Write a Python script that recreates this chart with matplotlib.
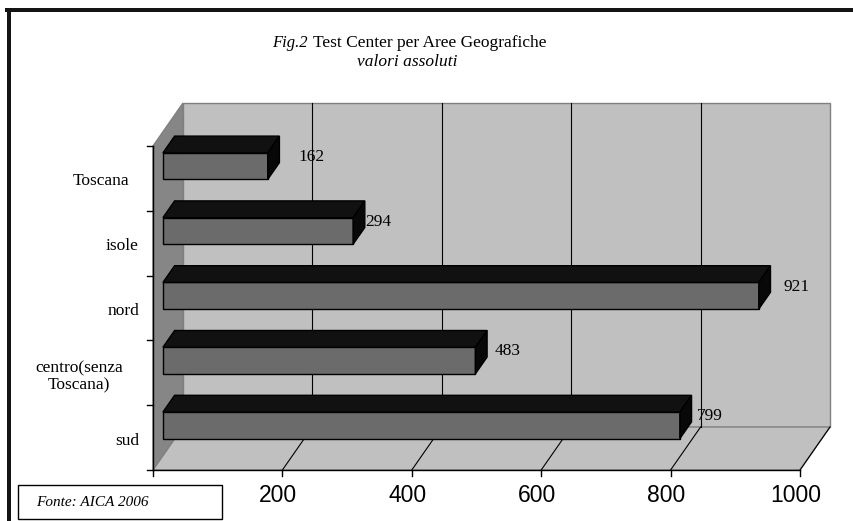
import matplotlib
matplotlib.use("Agg")
import matplotlib.pyplot as plt
from matplotlib.patches import Polygon, Rectangle

# ---- data -------------------------------------------------------------
categories = ["Toscana", "isole", "nord", "centro(senza\nToscana)", "sud"]
values = [162, 294, 921, 483, 799]
x_ticks = [200, 400, 600, 800, 1000]
x_max = 1000

# ---- style -------------------------------------------------------------
W, H = 854, 521
SERIF = ["Liberation Serif", "DejaVu Serif"]
SANS = ["Liberation Sans", "DejaVu Sans"]
WALL = "#c0c0c0"
SIDE_WALL = "#868686"
EDGE = "#808080"
BAR_FRONT = "#6b6b6b"
BAR_TOP = "#111111"
BAR_SIDE = "#080808"

fig = plt.figure(figsize=(W / 100, H / 100), dpi=100)
fig.patch.set_facecolor("white")

# plot frame (front plane) in pixels
left_px, right_px, bottom_px, top_px = 153, 800, 470, 146
ax = fig.add_axes([left_px / W, 1 - bottom_px / H,
                   (right_px - left_px) / W, (bottom_px - top_px) / H])
n = len(categories)
ax.set_xlim(0, x_max)
ax.set_ylim(0, n)
ax.axis("off")

# depth offsets in data units (30 px right, 43 px up)
px_x = (right_px - left_px) / x_max
px_y = (bottom_px - top_px) / n
DX = 30 / px_x
DY = 43 / px_y


def poly(pts, fc, ec, lw=0.8, z=1):
    ax.add_patch(Polygon(pts, closed=True, facecolor=fc, edgecolor=ec,
                         linewidth=lw, zorder=z, clip_on=False))


# walls and floor
poly([(DX, DY), (x_max + DX, DY), (x_max + DX, n + DY), (DX, n + DY)], WALL, EDGE, 1.0, 1)
poly([(0, 0), (DX, DY), (DX, n + DY), (0, n)], SIDE_WALL, EDGE, 1.0, 2)
poly([(0, 0), (x_max, 0), (x_max + DX, DY), (DX, DY)], WALL, EDGE, 1.0, 2)

# gridlines on back wall and floor
for t in x_ticks[:-1]:
    ax.plot([t + DX, t + DX], [DY, n + DY], color="black", lw=0.8, zorder=3, clip_on=False)
for t in x_ticks:
    ax.plot([t, t + DX], [0, DY], color="black", lw=0.8, zorder=3, clip_on=False)

# axes lines and ticks
ax.plot([0, x_max], [0, 0], color="black", lw=1.0, zorder=4, clip_on=False)
ax.plot([0, 0], [0, n], color="black", lw=1.0, zorder=4, clip_on=False)
tick_len_x = 6 / px_x
tick_len_y = 6 / px_y
for k in range(n + 1):
    ax.plot([-tick_len_x, 0], [k, k], color="black", lw=1.0, zorder=4, clip_on=False)
for t in [0] + x_ticks:
    ax.plot([t, t], [0, -tick_len_y], color="black", lw=1.0, zorder=4, clip_on=False)
for t in x_ticks:
    ax.annotate(f"{t}", (t, 0), xytext=(-4, -25), textcoords="offset pixels",
                ha="center", va="center", fontsize=16.5, family=SANS, color="black")

# 3D bars
f0, f1 = 0.33, 0.72
half = 0.205
label_gap_px = [19, 0, 13, 8, 5]
for idx, (cat, v) in enumerate(zip(categories, values)):
    c = n - idx - 0.5
    yb = c - half + f0 * DY - 0.03
    yt = c + half + f0 * DY - 0.03
    x0 = f0 * DX
    ddx = (f1 - f0) * DX
    ddy = (f1 - f0) * DY
    poly([(x0, yb), (x0 + v, yb), (x0 + v, yt), (x0, yt)], BAR_FRONT, "black", 1.0, 5)
    poly([(x0, yt), (x0 + v, yt), (x0 + v + ddx, yt + ddy), (x0 + ddx, yt + ddy)],
         BAR_TOP, "black", 1.0, 5)
    poly([(x0 + v, yb), (x0 + v + ddx, yb + ddy), (x0 + v + ddx, yt + ddy), (x0 + v, yt)],
         BAR_SIDE, "black", 1.0, 5)
    ax.annotate(f"{v}", (x0 + v + ddx, c + 0.33), xytext=(label_gap_px[idx], 0),
                textcoords="offset pixels", ha="left", va="center",
                fontsize=12.5, family=SERIF, color="black", zorder=6)

# category labels
for idx, cat in enumerate(categories):
    c = n - idx - 0.5
    if "\n" in cat:
        ax.annotate(cat, (0, c), xytext=(-74, -4), textcoords="offset pixels",
                    ha="center", va="center", multialignment="center",
                    fontsize=12.5, family=SERIF, color="black", linespacing=1.15)
    else:
        dx = -24 if idx == 0 else -14
        ax.annotate(cat, (0, c), xytext=(dx, -3), textcoords="offset pixels",
                    ha="right", va="center", fontsize=12.5, family=SERIF, color="black")

# overlay in pixel coordinates for frame, titles and source box
ov = fig.add_axes([0, 0, 1, 1], zorder=-1)
ov.set_xlim(0, W)
ov.set_ylim(H, 0)
ov.axis("off")
ov.patch.set_alpha(0)
ov.add_patch(Rectangle((5, 8), W, 4, facecolor="#141414", edgecolor="none"))
ov.add_patch(Rectangle((7, 8), 4, H, facecolor="#141414", edgecolor="none"))

top = fig.add_axes([0, 0, 1, 1], zorder=10)
top.set_xlim(0, W)
top.set_ylim(H, 0)
top.axis("off")
top.patch.set_alpha(0)
top.text(272, 43, "Fig.2", fontsize=12, family=SERIF, style="italic", ha="left", va="center")
top.text(313, 43, "Test Center per Aree Geografiche", fontsize=12.5, family=SERIF,
         ha="left", va="center")
top.text(407, 62, "valori assoluti", fontsize=12.5, family=SERIF, style="italic",
         ha="center", va="center")
top.add_patch(Rectangle((18, 485), 204, 34, facecolor="white", edgecolor="black", lw=1.0))
top.text(36, 503, "Fonte: AICA 2006", fontsize=11, family=SERIF, style="italic",
         ha="left", va="center")

fig.savefig("out.png", dpi=100)
